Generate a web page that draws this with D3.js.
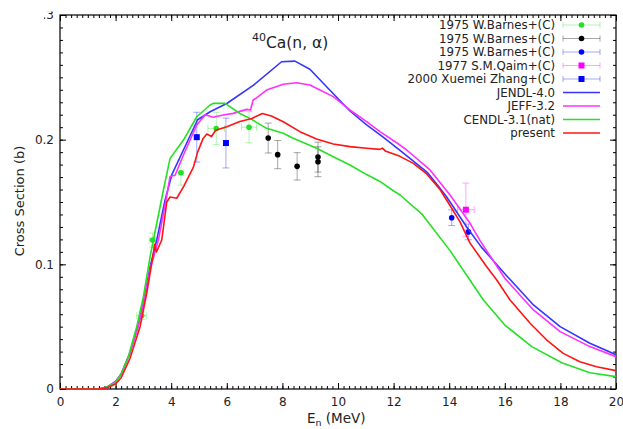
<!DOCTYPE html>
<html>
<head>
<meta charset="utf-8">
<script src="https://cdn.jsdelivr.net/npm/d3@7"></script>
<style>
  body { margin: 0; background: #fff; }
  text { font-family: "DejaVu Sans", sans-serif; fill: #222; }
</style>
</head>
<body>
<div id="chart"></div>
<script>
// evaluated curves: [E (MeV), sigma (b)]
const jendl = [[0,0],[1.4,0],[1.7,0.0015],[2.0,0.006],[2.2,0.012],[2.5,0.028],[2.8,0.05],[3.0,0.069],
  [3.24,0.098],[3.48,0.1195],[3.78,0.1516],[4.02,0.1717],[4.44,0.1917],[4.95,0.216],[5.4,0.2224],
  [6.0,0.229],[6.95,0.2435],[7.97,0.2625],[8.45,0.263],[8.99,0.2565],[9.59,0.2425],[10.43,0.223],
  [11.03,0.2118],[11.6,0.2024],[12.23,0.1915],[12.7,0.183],[13.2,0.174],[13.6,0.163],[13.91,0.154],
  [14.15,0.146],[14.63,0.13],[15.15,0.114],[16.0,0.0925],[17.03,0.0674],[17.99,0.05],[19.06,0.0367],[20,0.0275]];

const jeff = [[0,0],[1.4,0],[1.7,0.0015],[2.0,0.006],[2.2,0.012],[2.5,0.028],[2.8,0.049],[3.0,0.068],
  [3.24,0.096],[3.54,0.1195],[3.8,0.15],[3.96,0.1705],[4.14,0.1715],[4.44,0.1877],[4.92,0.2118],
  [5.22,0.22],[5.51,0.218],[5.87,0.2198],[6.23,0.2211],[6.72,0.2243],[6.85,0.2238],[6.95,0.2318],
  [7.07,0.2335],[7.43,0.2398],[8.03,0.2444],[8.51,0.2457],[8.99,0.2438],[9.35,0.2398],[9.83,0.2345],
  [10.43,0.2238],[11.03,0.2144],[11.51,0.2064],[12.23,0.1957],[12.47,0.1917],[13.31,0.1757],
  [14.03,0.1556],[14.75,0.1329],[15.11,0.119],[16.0,0.0888],[17.03,0.0634],[17.99,0.046],[19.06,0.034],[20,0.0259]];

const cendl = [[0,0],[1.4,0],[1.6,0.001],[1.98,0.0046],[2.2,0.012],[2.46,0.026],[2.76,0.05],[3.0,0.074],
  [3.24,0.106],[3.36,0.1195],[3.72,0.1596],[3.96,0.185],[4.44,0.1997],[4.92,0.2184],[5.4,0.2278],
  [5.51,0.2291],[5.94,0.2291],[6.47,0.221],[6.83,0.2171],[7.43,0.2091],[8.03,0.2051],[8.39,0.2011],
  [9.23,0.1931],[9.83,0.1863],[10.43,0.1797],[11.03,0.172],[11.51,0.1665],[11.99,0.159],[12.23,0.1556],
  [13.01,0.1405],[14.03,0.111],[15.23,0.0714],[16.0,0.0513],[16.97,0.034],[18.05,0.0211],[19.06,0.0131],[20,0.0099]];

const present = [[0,0],[1.4,0],[1.7,0.001],[2.0,0.004],[2.2,0.009],[2.52,0.0246],[2.88,0.05],[3.12,0.0768],
  [3.36,0.109],[3.4,0.116],[3.47,0.11],[3.66,0.1195],[3.84,0.15],[3.96,0.154],[4.2,0.153],[4.46,0.163],
  [4.8,0.178],[4.95,0.19],[5.15,0.201],[5.28,0.2045],[5.45,0.2025],[5.6,0.2075],[6.0,0.2104],[6.47,0.2145],
  [6.9,0.217],[7.28,0.221],[7.6,0.219],[8.03,0.2144],[8.63,0.2064],[9.23,0.2005],[9.83,0.1965],
  [10.43,0.1944],[11.03,0.1931],[11.5,0.1922],[11.6,0.1932],[11.7,0.191],[12.23,0.1866],[12.71,0.181],
  [13.19,0.1725],[13.67,0.16],[13.95,0.15],[14.39,0.134],[14.75,0.117],[15.35,0.098],[15.71,0.0874],
  [16.19,0.0714],[16.91,0.0527],[17.51,0.0393],[18.1,0.0286],[18.7,0.0219],[19.3,0.0179],[20,0.0147]];

// measurements: [E, sigma, dE, dSigma]
const barnesGreen = [[2.94,0.0588,0.18,0.003],[3.33,0.1195,0.12,0.0056],[4.35,0.1735,0.1,0.01],
  [5.62,0.209,0.3,0.013],[6.8,0.21,0.27,0.0125]];
const barnesBlack = [[7.49,0.2013,0,0.012],[7.83,0.188,0,0.0113],[8.53,0.1786,0,0.011],
  [9.28,0.186,0,0.012],[9.28,0.1823,0,0.012]];
const barnesBlue = [[14.09,0.1374,0,0.0063],[14.69,0.126,0,0.0063]];
const qaim = [[14.6,0.1438,0.3,0.0214]];
const zhang = [[4.92,0.202,0,0.02],[5.97,0.1973,0,0.02]];

const xTicks = [0,2,4,6,8,10,12,14,16,18,20];
const yTicks = [0,0.1,0.2,0.3];

const W = 623, H = 429;
const M = { left: 60, top: 15, right: 7, bottom: 40 };
const iw = 556, ih = 374;

const svg = d3.select("#chart").append("svg").attr("width", W).attr("height", H);
const g = svg.append("g").attr("transform", `translate(${M.left},${M.top})`);

const x = d3.scaleLinear().domain([0, 20]).range([0, iw]);
const y = d3.scaleLinear().domain([0, 0.3]).range([ih, 0]);

svg.append("defs").append("clipPath").attr("id", "plot")
  .append("rect").attr("width", iw).attr("height", ih);

// ticks (inward, mirrored on all four sides)
function ticks(axis, tr, size, values, labels) {
  const a = g.append("g").attr("transform", tr)
    .call(axis.tickValues(values).tickSize(-size).tickSizeOuter(0)
      .tickPadding(labels ? 8 : 0)
      .tickFormat(labels ? labels : ""));
  a.select(".domain").remove();
  a.selectAll("line").attr("stroke", "#000").attr("stroke-width", 1);
  a.selectAll("text").style("font-size", "12px").attr("fill", "#222")
    .style("font-family", '"DejaVu Sans", sans-serif');
  return a;
}
const xMinor = d3.range(0, 20.001, 0.2).map(v => +v.toFixed(2));
const yMinor = d3.range(0, 0.3001, 0.01).map(v => +v.toFixed(3));
ticks(d3.axisBottom(x), `translate(0,${ih})`, 3, xMinor, null);
ticks(d3.axisTop(x), "translate(0,0)", 3, xMinor, null);
ticks(d3.axisLeft(y), "translate(0,0)", 3, yMinor, null);
ticks(d3.axisRight(y), `translate(${iw},0)`, 3, yMinor, null);
ticks(d3.axisBottom(x), `translate(0,${ih})`, 6, xTicks, d => d);
ticks(d3.axisTop(x), "translate(0,0)", 6, xTicks, null);
const yAx = ticks(d3.axisLeft(y), "translate(0,0)", 6, yTicks, d => d === 0 ? "0" : d.toFixed(1));
ticks(d3.axisRight(y), `translate(${iw},0)`, 6, yTicks, null);
yAx.selectAll("text").attr("x", -6);

// top label is cut in the original figure
svg.append("defs").append("clipPath").attr("id", "topLab")
  .append("rect").attr("x", -16).attr("y", -4).attr("width", 20).attr("height", 12);
yAx.selectAll(".tick").filter(d => d === 0.3).select("text").attr("clip-path", "url(#topLab)");

g.append("rect").attr("width", iw).attr("height", ih)
  .attr("fill", "none").attr("stroke", "#000").attr("stroke-width", 1.2);

// measured points with error bars
const plot = g.append("g").attr("clip-path", "url(#plot)");
function points(data, color, shape) {
  const eg = plot.append("g").attr("stroke", color).attr("stroke-opacity", 0.35).attr("stroke-width", 1);
  data.forEach(([e, s, de, ds]) => {
    const cx = x(e), cy = y(s);
    if (ds > 0) {
      eg.append("line").attr("x1", cx).attr("x2", cx).attr("y1", y(s - ds)).attr("y2", y(s + ds));
      [s - ds, s + ds].forEach(v => eg.append("line")
        .attr("x1", cx - 3.5).attr("x2", cx + 3.5).attr("y1", y(v)).attr("y2", y(v)));
    }
    if (de > 0) {
      eg.append("line").attr("x1", x(e - de)).attr("x2", x(e + de)).attr("y1", cy).attr("y2", cy);
      [e - de, e + de].forEach(v => eg.append("line")
        .attr("x1", x(v)).attr("x2", x(v)).attr("y1", cy - 3.5).attr("y2", cy + 3.5));
    }
  });
  data.forEach(([e, s]) => {
    if (shape === "sq") {
      plot.append("rect").attr("x", x(e) - 3).attr("y", y(s) - 3)
        .attr("width", 6).attr("height", 6).attr("fill", color);
    } else {
      plot.append("circle").attr("cx", x(e)).attr("cy", y(s)).attr("r", 2.8).attr("fill", color);
    }
  });
}
const C = { green: "#22e022", black: "#000", blue: "#0000ff", mag: "#ff00ff",
  jendl: "#3535ff", jeff: "#ff30ff", cendl: "#25e025", present: "#ff1414" };
points(barnesGreen, C.green, "c");
points(barnesBlack, C.black, "c");
points(barnesBlue, C.blue, "c");
points(qaim, C.mag, "sq");
points(zhang, C.blue, "sq");

// evaluated curves
const line = d3.line().x(d => x(d[0])).y(d => y(d[1]));
[[jendl, C.jendl], [jeff, C.jeff], [cendl, C.cendl], [present, C.present]].forEach(([d, c]) => {
  plot.append("path").datum(d).attr("d", line).attr("fill", "none")
    .attr("stroke", c).attr("stroke-width", 1.6).attr("stroke-linejoin", "round");
});

// legend
const legend = [
  { label: "1975 W.Barnes+(C)", color: C.green, mark: "c" },
  { label: "1975 W.Barnes+(C)", color: C.black, mark: "c" },
  { label: "1975 W.Barnes+(C)", color: C.blue, mark: "c" },
  { label: "1977 S.M.Qaim+(C)", color: C.mag, mark: "sq" },
  { label: "2000 Xuemei Zhang+(C)", color: C.blue, mark: "sq" },
  { label: "JENDL-4.0", color: C.jendl },
  { label: "JEFF-3.2", color: C.jeff },
  { label: "CENDL-3.1(nat)", color: C.cendl },
  { label: "present", color: C.present }
];
const lg = svg.append("g");
legend.forEach((d, i) => {
  const cy = 25 + i * 13.5;
  lg.append("text").attr("x", 555).attr("y", cy + 4.3).attr("text-anchor", "end")
    .style("font-size", "11.8px").text(d.label);
  if (d.mark) {
    const e = lg.append("g").attr("stroke", d.color).attr("stroke-opacity", 0.35);
    e.append("line").attr("x1", 563).attr("x2", 600).attr("y1", cy).attr("y2", cy);
    [563, 600].forEach(v => e.append("line").attr("x1", v).attr("x2", v).attr("y1", cy - 3).attr("y2", cy + 3));
    if (d.mark === "sq") lg.append("rect").attr("x", 578.5).attr("y", cy - 3).attr("width", 6).attr("height", 6).attr("fill", d.color);
    else lg.append("circle").attr("cx", 581.5).attr("cy", cy).attr("r", 2.8).attr("fill", d.color);
  } else {
    lg.append("line").attr("x1", 563).attr("x2", 600).attr("y1", cy).attr("y2", cy)
      .attr("stroke", d.color).attr("stroke-width", 1.6);
  }
});

// title and axis titles
const t = svg.append("text").attr("x", 252).attr("y", 48).style("font-size", "15.5px");
t.append("tspan").attr("dy", "-7").style("font-size", "11px").text("40");
t.append("tspan").attr("dy", "7").text("Ca(n, α)");

svg.append("text").attr("transform", "translate(24,201) rotate(-90)")
  .attr("text-anchor", "middle").style("font-size", "13px").text("Cross Section (b)");

const xt = svg.append("text").attr("x", 307).attr("y", 423).style("font-size", "13.5px");
xt.append("tspan").text("E");
xt.append("tspan").attr("dy", "3").style("font-size", "9.5px").text("n");
xt.append("tspan").attr("dy", "-3").text(" (MeV)");
</script>
</body>
</html>
